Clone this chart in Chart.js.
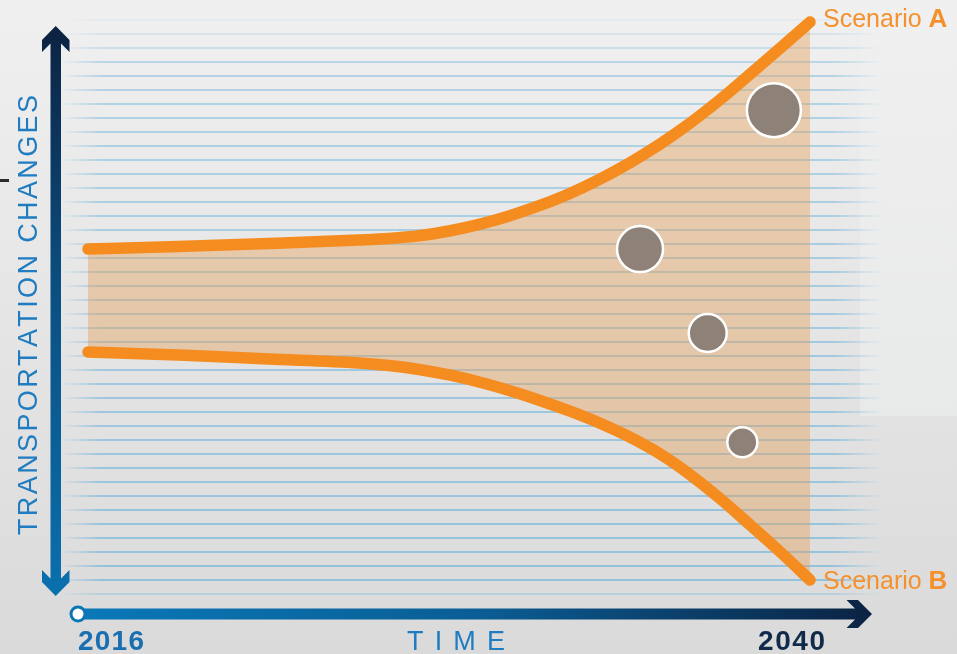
<!DOCTYPE html>
<html><head><meta charset="utf-8">
<script src="https://cdn.jsdelivr.net/npm/chart.js@4.4.1/dist/chart.umd.min.js"></script>
<style>html,body{margin:0;padding:0;background:#e6e6e6;overflow:hidden}canvas{display:block}</style>
</head><body>
<canvas id="c" width="957" height="654"></canvas>
<script>
// ---- data ----
const years = [2016,2019,2022,2025,2026,2027,2028,2029,2030,2031,2032,2033,2034,2035,2036,2037,2038,2039,2040];
const scenarioA = [59.11,59.55,60.09,60.71,60.98,61.46,62.32,63.5,65.02,66.84,68.98,71.54,74.48,77.79,81.54,85.73,90.29,94.93,99.64];
const scenarioB = [40.71,40.18,39.46,38.75,38.30,37.59,36.61,35.36,33.84,32.11,30.18,28.04,25.55,22.55,18.86,14.57,9.88,5.07,0];
const bubbleYears = [2038.8, 2034.35, 2036.6, 2037.75];
const bubbleValues = [83.9, 59.1, 44.1, 24.6];
const bubbleSizes = [27, 23, 19, 15];
const seriesNames = ['Scenario', 'Scenario'];
const seriesLetters = ['A', 'B'];
const xTickYears = [2016, 2040];
const xTickLabels = ['2016', '2040'];
const xTitle = 'TIME';
const yTitle = 'TRANSPORTATION CHANGES';

function spaced(ctx, text, x, y, width) {
  const chars = [...text];
  const ws = chars.map(c => ctx.measureText(c).width);
  const total = ws.reduce((a, b) => a + b, 0);
  const gap = (width - total) / (chars.length - 1);
  let cx = x;
  chars.forEach((c, i) => { ctx.fillText(c, cx, y); cx += ws[i] + gap; });
}

const backdrop = {
  id: 'backdrop',
  beforeDraw(chart) {
    const ctx = chart.ctx, W = chart.width, H = chart.height;
    ctx.save();
    const bg = ctx.createLinearGradient(0, 0, 0, H);
    bg.addColorStop(0, '#f0f0f0'); bg.addColorStop(1, '#dadada');
    ctx.fillStyle = bg; ctx.fillRect(0, 0, W, H);
    const rg = ctx.createLinearGradient(0, 0, 0, 416);
    rg.addColorStop(0, '#f0f0f0'); rg.addColorStop(1, '#e8e9e9');
    ctx.fillStyle = rg; ctx.fillRect(860, 0, W - 860, 416);
    // stripes on the y scale levels
    const ys = chart.scales.y;
    const hg = ctx.createLinearGradient(60, 0, 882, 0);
    hg.addColorStop(0, 'rgba(110,180,220,0)');
    hg.addColorStop(0.05, 'rgba(110,180,220,1)');
    hg.addColorStop(0.94, 'rgba(110,180,220,1)');
    hg.addColorStop(1, 'rgba(110,180,220,0)');
    ctx.strokeStyle = hg; ctx.lineWidth = 2;
    for (let v = -2.5; v <= 100.01; v += 2.5) {
      const y = Math.round(ys.getPixelForValue(v));
      const fadeTop = Math.max(0, Math.min(1, (y - 8) / 60));
      ctx.globalAlpha = fadeTop * (0.42 + 0.25 * (y / 600)) * (y > 590 ? 0.5 : 1);
      ctx.beginPath(); ctx.moveTo(60, y); ctx.lineTo(882, y); ctx.stroke();
    }
    ctx.restore();
  }
};

const decor = {
  id: 'decor',
  afterDraw(chart) {
    const ctx = chart.ctx;
    const xs = chart.scales.x, ys = chart.scales.y;
    ctx.save();
    // stray dash at left edge
    ctx.fillStyle = '#2b2b2b'; ctx.fillRect(0, 179, 9, 3);
    // y axis arrow
    const gy = ctx.createLinearGradient(0, 26, 0, 596);
    gy.addColorStop(0, '#0c2241'); gy.addColorStop(0.45, '#0b4e80'); gy.addColorStop(1, '#0a70ae');
    ctx.fillStyle = gy;
    ctx.beginPath();
    ctx.moveTo(55.7, 26); ctx.lineTo(69.5, 40); ctx.lineTo(69.5, 52); ctx.lineTo(61, 43.5);
    ctx.lineTo(61, 578.5); ctx.lineTo(69.5, 570); ctx.lineTo(69.5, 582); ctx.lineTo(55.7, 596);
    ctx.lineTo(42, 582); ctx.lineTo(42, 570); ctx.lineTo(50.5, 578.5); ctx.lineTo(50.5, 43.5);
    ctx.lineTo(42, 52); ctx.lineTo(42, 40); ctx.closePath(); ctx.fill();
    // x axis arrow
    const gx = ctx.createLinearGradient(78, 0, 872, 0);
    gx.addColorStop(0, '#0a78b8'); gx.addColorStop(0.5, '#0a5e95'); gx.addColorStop(1, '#0b2343');
    ctx.fillStyle = gx;
    ctx.beginPath();
    ctx.moveTo(78, 608.5); ctx.lineTo(855, 608.5); ctx.lineTo(846.5, 600); ctx.lineTo(858, 600);
    ctx.lineTo(872, 614); ctx.lineTo(858, 628); ctx.lineTo(846.5, 628); ctx.lineTo(855, 619.5);
    ctx.lineTo(78, 619.5); ctx.closePath(); ctx.fill();
    ctx.beginPath(); ctx.arc(78, 614, 7, 0, Math.PI * 2);
    ctx.fillStyle = '#ffffff'; ctx.fill();
    ctx.lineWidth = 3; ctx.strokeStyle = '#0a76b6'; ctx.stroke();
    // x tick labels
    ctx.font = 'bold 28px "Liberation Sans", Arial, sans-serif';
    ctx.textBaseline = 'alphabetic';
    ctx.textAlign = 'left'; ctx.fillStyle = '#1a6fb1';
    spaced(ctx, xTickLabels[0], xs.getPixelForValue(xTickYears[0]) - 10, 650, 66);
    ctx.fillStyle = '#0f2a4a';
    spaced(ctx, xTickLabels[1], xs.getPixelForValue(xTickYears[1]) - 52, 650, 67);
    // x title
    ctx.fillStyle = '#1f7cc0';
    ctx.font = '27px "Liberation Sans", Arial, sans-serif';
    spaced(ctx, xTitle, 407, 650, 98);
    // y title
    ctx.save();
    ctx.translate(37, 535); ctx.rotate(-Math.PI / 2);
    spaced(ctx, yTitle, 0, 0, 440);
    ctx.restore();
    // scenario labels
    const endX = xs.getPixelForValue(years[years.length - 1]) + 13;
    const ends = [ys.getPixelForValue(scenarioA[scenarioA.length - 1]) + 5, ys.getPixelForValue(scenarioB[scenarioB.length - 1]) + 9];
    ctx.fillStyle = '#f5912c';
    ends.forEach((by, i) => {
      ctx.font = '25px "Liberation Sans", Arial, sans-serif';
      const t = seriesNames[i] + ' ';
      ctx.fillText(t, endX, by);
      const w = ctx.measureText(t).width;
      ctx.font = 'bold 26px "Liberation Sans", Arial, sans-serif';
      ctx.fillText(seriesLetters[i], endX + w, by);
    });
    ctx.restore();
  }
};

new Chart(document.getElementById('c'), {
  type: 'line',
  data: {
    datasets: [
      {
        type: 'bubble',
        data: bubbleYears.map((x, i) => ({ x, y: bubbleValues[i], r: bubbleSizes[i] })),
        backgroundColor: '#8e8278', borderColor: '#ffffff', borderWidth: 2.5,
        order: 0, clip: false
      },
      {
        label: seriesNames[0] + ' ' + seriesLetters[0],
        data: years.map((x, i) => ({ x, y: scenarioA[i] })),
        borderColor: '#f58c1f', borderWidth: 11.5, borderCapStyle: 'round', borderJoinStyle: 'round',
        pointRadius: 0, cubicInterpolationMode: 'monotone',
        fill: '+1', backgroundColor: 'rgba(228,158,88,0.42)', order: 1, clip: false
      },
      {
        label: seriesNames[1] + ' ' + seriesLetters[1],
        data: years.map((x, i) => ({ x, y: scenarioB[i] })),
        borderColor: '#f58c1f', borderWidth: 11.5, borderCapStyle: 'round', borderJoinStyle: 'round',
        pointRadius: 0, cubicInterpolationMode: 'monotone',
        fill: false, order: 2, clip: false
      }
    ]
  },
  options: {
    responsive: false, animation: false, events: [],
    layout: { autoPadding: false, padding: { left: 88, right: 147, top: 6, bottom: 60 } },
    plugins: { legend: { display: false }, tooltip: { enabled: false }, filler: { drawTime: 'beforeDatasetsDraw' } },
    scales: {
      x: { type: 'linear', min: 2016, max: 2040, display: false },
      y: { type: 'linear', min: -2.5, max: 102.5, display: false }
    }
  },
  plugins: [backdrop, decor]
});
</script>
</body></html>
